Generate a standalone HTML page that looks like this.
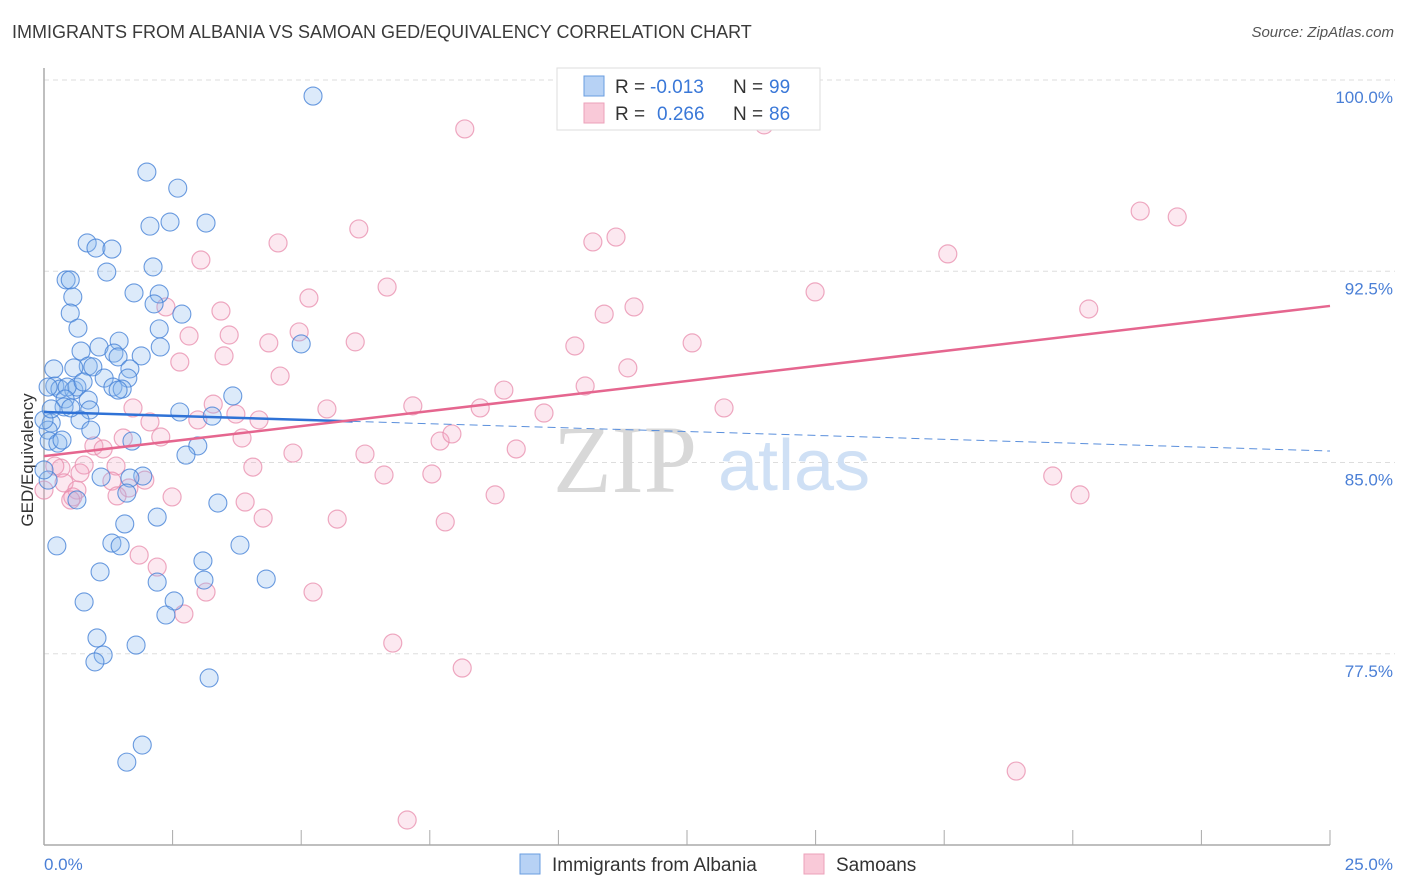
<!DOCTYPE html>
<html><head><meta charset="utf-8">
<style>
body{margin:0;background:#fff;font-family:"Liberation Sans",sans-serif;}
#wrap{position:relative;width:1406px;height:892px;overflow:hidden;}
.t{position:absolute;white-space:nowrap;}
</style></head>
<body>
<div id="wrap">
<div class="t" style="left:12px;top:22px;font-size:18px;color:#3a3a3a;">IMMIGRANTS FROM ALBANIA VS SAMOAN GED/EQUIVALENCY CORRELATION CHART</div>
<div class="t" style="right:12px;top:24px;font-size:15px;color:#555;font-style:italic;">Source: ZipAtlas.com</div>
<div class="t" style="top:460px;font-size:17px;color:#333;transform:translate(-50%,-50%) rotate(-90deg);transform-origin:center;left:28px;">GED/Equivalency</div>
<svg id="svg" width="1406" height="892" style="position:absolute;left:0;top:0"></svg>
</div>
<script>
const xTicks=[0,25];
const yTicks=[100,92.5,85,77.5];
const blueX=[5.23,2.00,2.60,2.06,2.45,3.15,0.84,1.01,1.32,2.12,1.22,0.43,0.51,1.75,2.24,0.56,2.14,2.68,0.51,0.66,2.24,1.46,2.26,0.72,1.07,1.36,1.89,1.44,0.86,1.67,0.19,0.58,0.95,1.63,1.17,1.34,1.52,1.44,0.21,0.31,0.08,0.58,0.64,0.45,0.76,0.41,0.86,0.39,0.89,0.70,3.67,2.64,3.27,0.14,0.08,0.91,1.71,0.10,0.27,0.35,2.99,2.76,1.92,1.11,1.67,1.61,0.64,3.38,0.08,1.57,2.20,0.25,1.32,1.48,3.81,1.09,3.09,3.11,4.32,2.20,0.78,2.53,2.37,1.03,1.79,1.15,0.99,3.21,1.91,1.61,5.00,0.00,0.00,0.14,0.52];
const blueY=[99.37,96.39,95.76,94.27,94.43,94.39,93.61,93.41,93.37,92.67,92.47,92.16,92.16,91.65,91.61,91.49,91.22,90.82,90.86,90.27,90.24,89.76,89.53,89.37,89.53,89.29,89.18,89.14,88.78,88.67,88.67,88.71,88.75,88.31,88.31,87.96,87.88,87.84,88.00,87.88,87.96,87.84,87.96,87.96,88.16,87.49,87.45,87.18,87.06,86.67,87.61,86.98,86.82,86.55,86.27,86.27,85.84,85.84,85.76,85.88,85.65,85.29,84.47,84.43,84.39,83.80,83.53,83.41,84.31,82.59,82.86,81.73,81.84,81.73,81.76,80.71,81.14,80.39,80.43,80.31,79.53,79.57,79.02,78.12,77.84,77.45,77.18,76.55,73.92,73.25,89.65,86.67,84.71,87.10,87.14];
const pinkX=[8.18,14.00,21.31,22.03,4.55,6.12,10.67,11.12,17.57,3.05,5.15,6.67,14.99,10.89,11.47,20.31,2.37,3.44,2.82,3.60,4.37,4.96,6.05,10.32,12.60,2.64,3.50,4.59,11.35,8.94,10.52,3.29,3.73,1.73,2.99,4.18,5.50,7.17,8.48,9.72,13.22,2.06,1.54,2.27,3.85,7.70,7.93,0.97,1.15,1.40,0.78,0.33,0.21,4.06,4.84,6.24,9.18,6.61,7.54,19.61,0.70,0.39,1.32,1.96,0.64,0.56,0.52,0.00,2.49,3.91,4.26,5.70,7.80,8.77,20.14,1.85,2.20,3.15,5.23,2.72,6.78,8.13,18.90,7.06,1.65,1.42];
const pinkY=[98.08,98.24,94.86,94.63,93.61,94.16,93.65,93.84,93.18,92.94,91.45,91.88,91.69,90.82,91.10,91.02,91.10,90.94,89.96,90.00,89.69,90.12,89.73,89.57,89.69,88.94,89.18,88.39,88.71,87.84,88.00,87.29,86.90,87.14,86.67,86.67,87.10,87.22,87.14,86.94,87.14,86.59,85.96,86.00,85.96,85.84,86.12,85.65,85.53,84.86,84.90,84.78,84.86,84.82,85.37,85.33,85.53,84.51,84.55,84.47,84.59,84.20,84.27,84.31,83.92,83.65,83.53,83.92,83.65,83.45,82.82,82.78,82.67,83.73,83.73,81.37,80.90,79.92,79.92,79.06,77.92,76.94,72.90,70.98,84.00,83.69];
const blueTrend=[86.98,85.45];
const pinkTrend=[85.25,91.14];
const blueSolidEnd=6.0;

const X0=44,X1=1330,Y100=80,PXPER=25.5;
function sx(v){return X0+(v/25)*(X1-X0);}
function sy(v){return Y100+(100-v)*PXPER;}
const NS='http://www.w3.org/2000/svg';
const svg=document.getElementById('svg');
function mk(tag,attrs,parent){const e=document.createElementNS(NS,tag);for(const k in attrs)e.setAttribute(k,attrs[k]);(parent||svg).appendChild(e);return e;}

yTicks.forEach(v=>{
  const g=mk('line',{x1:X0,x2:1395,y1:sy(v),y2:sy(v),stroke:'#ddd','stroke-dasharray':'5,4','stroke-width':1});
  
  
  const t=mk('text',{x:1393,y:sy(v)+23,'text-anchor':'end','font-size':17,fill:'#4a7fd6','font-family':'Liberation Sans, sans-serif'});
  t.textContent=v.toFixed(1)+'%';
  
  
});
const ya=mk('line',{x1:X0,x2:X0,y1:68,y2:845,stroke:'#aaa','stroke-width':1.5});


const xa=mk('line',{x1:X0,x2:X1,y1:845,y2:845,stroke:'#aaa','stroke-width':1.5});


for(let i=0;i<=10;i++){
  const tk=mk('line',{x1:X0+i*(X1-X0)/10,x2:X0+i*(X1-X0)/10,y1:830,y2:845,stroke:'#aaa','stroke-width':1});
  
  
}
xTicks.forEach((v,i)=>{
  const t=mk('text',{x:i==0?sx(v):1393,y:870,'text-anchor':i==0?'start':'end','font-size':17,fill:'#4a7fd6','font-family':'Liberation Sans, sans-serif'});
  t.textContent=v.toFixed(1)+'%';
  
  
});
const wm=mk('text',{x:553,y:492,'font-size':96,fill:'#d8d8d8','font-family':'Liberation Serif, serif'});
wm.textContent='ZIP';


const wm2=mk('text',{x:718,y:490,'font-size':72,fill:'#cfe0f5','font-family':'Liberation Sans, sans-serif'});
wm2.textContent='atlas';



pinkX.forEach((x,i)=>{
  const c=mk('circle',{cx:sx(x),cy:sy(pinkY[i]),r:9,fill:'rgba(244,165,195,0.25)',stroke:'rgba(232,140,172,0.75)','stroke-width':1.2});
  
  
});
blueX.forEach((x,i)=>{
  const c=mk('circle',{cx:sx(x),cy:sy(blueY[i]),r:9,fill:'rgba(140,185,240,0.3)',stroke:'rgba(70,130,215,0.8)','stroke-width':1.1});
  
  
});
function lerp(a,b,t){return a+(b-a)*t;}
const bs=mk('line',{x1:sx(0),y1:sy(blueTrend[0]),x2:sx(blueSolidEnd),y2:sy(lerp(blueTrend[0],blueTrend[1],blueSolidEnd/25)),stroke:'#2f72d6','stroke-width':2.5});


const bd=mk('line',{x1:sx(blueSolidEnd),y1:sy(lerp(blueTrend[0],blueTrend[1],blueSolidEnd/25)),x2:sx(25),y2:sy(blueTrend[1]),stroke:'#5a8fdc','stroke-width':1,'stroke-dasharray':'8,5'});


const pl=mk('line',{x1:sx(0),y1:sy(pinkTrend[0]),x2:sx(25),y2:sy(pinkTrend[1]),stroke:'#e5668f','stroke-width':2.5});



const lg=mk('rect',{x:557,y:68,width:263,height:62,fill:'#fff',stroke:'#ddd'});


[[0,'#b7d2f5','#6a9de0','-0.013','99'],[1,'#f9c9d8','#eca1ba','0.266','86']].forEach(r=>{
  const y=86+r[0]*27;
  const s=mk('rect',{x:584,y:y-10,width:20,height:20,fill:r[1],stroke:r[2]});
  
  
  const t=mk('text',{x:615,y:y+7,'font-size':19,fill:'#333','font-family':'Liberation Sans, sans-serif'});
  t.innerHTML='R =<tspan fill="#3a78d8" x="'+(r[0]?657:650)+'">'+r[3]+'</tspan><tspan fill="#333" x="733">N =</tspan><tspan fill="#3a78d8" x="769">'+r[4]+'</tspan>';
  
  
});
[[520,'#b7d2f5','#6a9de0','Immigrants from Albania'],[804,'#f9c9d8','#eca1ba','Samoans']].forEach(r=>{
  const s=mk('rect',{x:r[0],y:854,width:20,height:20,fill:r[1],stroke:r[2]});
  
  
  const t=mk('text',{x:r[0]+32,y:871,'font-size':19,fill:'#333','font-family':'Liberation Sans, sans-serif'});
  t.textContent=r[3];
  
  
});
</script>
</body></html>
